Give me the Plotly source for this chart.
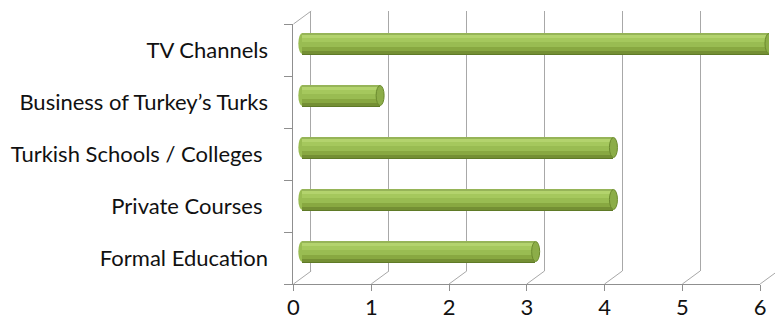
import plotly.graph_objects as go

# ---- data ----
categories = ["Formal Education", "Private Courses\u00a0", "Turkish Schools / Colleges\u00a0",
              "Business of Turkey\u2019s Turks", "TV Channels"]
values = [3, 4, 4, 1, 6]
x_ticks = [0, 1, 2, 3, 4, 5, 6]

# ---- geometry (pixels) ----
W, H = 775, 323
X0 = 292          # front-plane x of value 0
UNIT = 79         # px per unit on x
Y_BOT, Y_TOP = 284, 24
DX, DY = 18, 13   # depth offset of back wall
BAR_PX = 21
xmax = x_ticks[-1]
ncat = len(categories)
cat_px = (Y_BOT - Y_TOP) / ncat

def fx(p):
    return p / W

def fy(p):
    return 1 - p / H

GRID = "#a8a8a8"
AXIS = "#8f8f8f"
FONT = dict(family="Lato, 'Open Sans', sans-serif", size=22, color="#111111")

fig = go.Figure()

# back wall subplot (x / y) - gridlines only
fig.add_trace(go.Scatter(x=[None], y=[None], xaxis="x", yaxis="y",
                         showlegend=False, hoverinfo="skip"))
# front axes subplot (x2 / y2)
fig.add_trace(go.Scatter(x=[None], y=[categories[0]], xaxis="x2", yaxis="y2",
                         showlegend=False, hoverinfo="skip", mode="markers",
                         marker=dict(opacity=0)))

# cylinder bars (x3 / y3) as gradient bands
bands = [(21, "#5f7a27"), (20, "#748f34"), (17, "#88a841"), (13, "#99bc52"),
         (8, "#a5c85d"), (4, "#b3d36d"), (1, "#96b458")]
for h, col in bands:
    fig.add_trace(go.Bar(
        x=values, y=categories, orientation="h", xaxis="x3", yaxis="y3",
        width=h / cat_px, offset=(BAR_PX / 2 - h) / cat_px,
        marker=dict(color=col, line=dict(width=0)),
        showlegend=False, hoverinfo="skip"))

shapes = []
# left rounded ends and right end caps
for i, v in enumerate(values):
    shapes.append(dict(type="circle", xref="x3", yref="y3", xsizemode="pixel",
                       ysizemode="pixel", xanchor=0, yanchor=i, x0=-4, x1=4,
                       y0=-BAR_PX / 2, y1=BAR_PX / 2, fillcolor="#99bc52",
                       line=dict(width=0), layer="between"))
    shapes.append(dict(type="circle", xref="x3", yref="y3", xsizemode="pixel",
                       ysizemode="pixel", xanchor=v, yanchor=i, x0=-4, x1=4,
                       y0=-BAR_PX / 2 + 0.5, y1=BAR_PX / 2 - 0.5, fillcolor="#8cad48",
                       line=dict(width=1, color="#6b8a2e"), layer="above"))
# floor diagonals from each x tick
for v in x_ticks:
    xp = X0 + UNIT * v
    shapes.append(dict(type="line", xref="paper", yref="paper",
                       x0=fx(xp), y0=fy(Y_BOT), x1=fx(xp + DX), y1=fy(Y_BOT - DY),
                       line=dict(color=GRID, width=1), layer="below"))
# left wall top edge
shapes.append(dict(type="line", xref="paper", yref="paper",
                   x0=fx(X0), y0=fy(Y_TOP), x1=fx(X0 + DX), y1=fy(Y_TOP - DY),
                   line=dict(color=GRID, width=1), layer="below"))

fig.update_layout(
    width=W, height=H, margin=dict(l=0, r=0, t=0, b=0),
    paper_bgcolor="white", plot_bgcolor="rgba(0,0,0,0)",
    barmode="overlay", bargap=0, showlegend=False, font=FONT,
    shapes=shapes,
    # back wall
    xaxis=dict(domain=[fx(X0 + DX), 1], range=[0, (W - X0 - DX) / UNIT],
               anchor="y", showgrid=True, gridcolor=GRID, gridwidth=1, dtick=1,
               tick0=0, showticklabels=False, ticks="", showline=False,
               zeroline=False, fixedrange=True),
    yaxis=dict(domain=[fy(Y_BOT - DY), fy(Y_TOP - DY)], range=[0, 1], anchor="x",
               showline=True, linecolor=GRID, linewidth=1, showgrid=False,
               zeroline=False, showticklabels=False, ticks="", fixedrange=True),
    # front axes
    xaxis2=dict(domain=[fx(X0), fx(X0 + UNIT * xmax)], range=[0, xmax], anchor="y2",
                tickvals=x_ticks, ticks="outside", ticklen=6, tickcolor=AXIS,
                showline=True, linecolor=AXIS, linewidth=1, showgrid=False,
                zeroline=False, tickfont=FONT, ticklabelstandoff=-2, fixedrange=True),
    yaxis2=dict(domain=[fy(Y_BOT), fy(Y_TOP)], type="category",
                categoryorder="array", categoryarray=categories,
                range=[-0.5, ncat - 0.5], anchor="x2", tickson="boundaries",
                ticks="outside", ticklen=8, tickcolor=AXIS, showline=True,
                linecolor=AXIS, linewidth=1, showgrid=False, zeroline=False,
                tickfont=FONT, ticklabelstandoff=20, fixedrange=True),
    # bars (mid depth)
    xaxis3=dict(domain=[fx(X0), 1], range=[-(DX / 2) / UNIT, (W - X0 - DX / 2) / UNIT],
                anchor="y3", visible=False, fixedrange=True),
    yaxis3=dict(domain=[fy(Y_BOT - DY / 2), fy(Y_TOP - DY / 2)], type="category",
                categoryorder="array", categoryarray=categories,
                range=[-0.5, ncat - 0.5], anchor="x3", visible=False, fixedrange=True),
)

fig.write_html("out.html")
